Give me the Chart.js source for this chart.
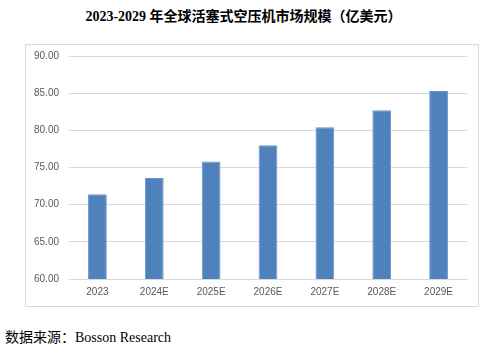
<!DOCTYPE html>
<html>
<head>
<meta charset="utf-8">
<script src="https://cdn.jsdelivr.net/npm/chart.js@4"></script>
<style>
  html, body { margin:0; padding:0; background:#fff; }
  body { width:487px; height:349px; position:relative; overflow:hidden; }
  #title {
    position:absolute; left:0; top:5px; width:487px; text-align:center;
    font-family:"Liberation Serif","Noto Sans CJK SC",serif; font-weight:bold;
    font-size:14px; color:#000;
  }
  #title .cn { font-family:"Noto Sans CJK SC",sans-serif; }
  #box {
    position:absolute; left:25px; top:44px; width:452px; height:261px;
    border:1px solid #d9d9d9;
  }
  #source {
    position:absolute; left:5px; top:326px;
    font-family:"Liberation Serif","Noto Sans CJK SC",serif; font-size:14px; color:#000;
  }
  #source .cn { font-family:"Noto Sans CJK SC",sans-serif; }
</style>
</head>
<body>
<div id="title">2023-2029 <span class="cn">年全球活塞式空压机市场规模（亿美元）</span></div>
<div id="box"><canvas id="marketChart" width="452" height="261"></canvas></div>
<div id="source"><span class="cn">数据来源：</span>Bosson Research</div>
<script>
// 2023-2029 global piston air compressor market size (100M USD)

let years = ["2023", "2024E", "2025E", "2026E", "2027E", "2028E", "2029E"];

let marketSize = [71.4, 73.6, 75.8, 78.0, 80.4, 82.7, 85.3];

let yTicks = [60, 65, 70, 75, 80, 85, 90];



function drawChart(labels, data){

    let canvas = document.getElementById("marketChart");

    if(!canvas)
    return;

    new Chart(canvas, {

        type:"bar",

        data:{
            labels:labels,
            datasets:[{
                label:"市场规模",
                data:data,
                backgroundColor:"#4f81bd",
                borderColor:"#6a93c6",
                borderWidth:1,
                barPercentage:0.33,
                categoryPercentage:1
            }]
        },

        options:{
            responsive:false,
            animation:false,
            layout:{ padding:{ top:11, right:11, left:0, bottom:0 } },
            plugins:{
                legend:{ display:false },
                tooltip:{ enabled:false }
            },
            scales:{
                x:{
                    grid:{ display:false, drawTicks:false },
                    border:{ color:"#d9d9d9" },
                    ticks:{
                        color:"#595959",
                        padding:7,
                        font:{ family:"Liberation Sans", size:10 }
                    },
                    afterFit:function(scale){
                        scale.height = 27;
                        scale.paddingLeft = 0;
                        scale.paddingRight = 0;
                    }
                },
                y:{
                    min:yTicks[0],
                    max:yTicks[yTicks.length - 1],
                    afterBuildTicks:function(scale){
                        scale.ticks = yTicks.map(v => ({ value:v }));
                    },
                    grid:{ color:"#d9d9d9", drawTicks:false },
                    border:{ display:false },
                    ticks:{
                        color:"#595959",
                        padding:10,
                        font:{ family:"Liberation Sans", size:10 },
                        callback:function(v){ return Number(v).toFixed(2); }
                    },
                    afterFit:function(scale){
                        scale.width = 43;
                        scale.paddingTop = 0;
                        scale.paddingBottom = 0;
                    }
                }
            }
        }
    });

}

drawChart(years, marketSize);
</script>
</body>
</html>
